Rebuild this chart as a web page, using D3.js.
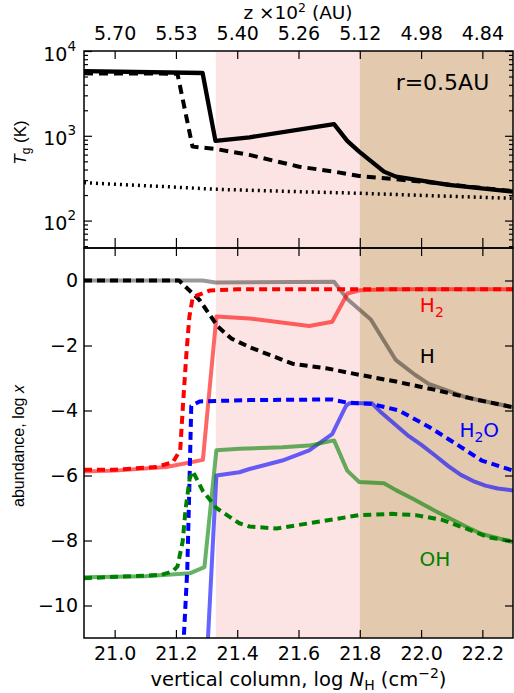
<!DOCTYPE html>
<html>
<head>
<meta charset="utf-8">
<script src="https://cdn.jsdelivr.net/npm/d3@7"></script>
<style>
  html, body { margin: 0; padding: 0; background: #fff; }
  svg { display: block; }
  .tick text { font-family: 'DejaVu Sans', sans-serif; font-size: 19px; fill: #000; }
  .tick line { stroke: #000; stroke-width: 1.2; }
</style>
</head>
<body>
<div id="chart"></div>
<script>
// x ticks: vertical column, log N_H
const colTicks = [21.0, 21.2, 21.4, 21.6, 21.8, 22.0, 22.2];
// matching height labels on the top axis (z x 10^2 AU)
const zLabels = ['5.70', '5.53', '5.40', '5.26', '5.12', '4.98', '4.84'];
const tMajor = [100, 1000, 10000];
const tMinor = [50, 60, 70, 80, 90, 200, 300, 400, 500, 600, 700, 800, 900,
  2000, 3000, 4000, 5000, 6000, 7000, 8000, 9000];
const abTicks = [0, -2, -4, -6, -8, -10];

// shaded layers (log N_H)
const pinkBand = [21.33, 21.8];
const tanBand = [21.8, 22.3];

// gas temperature, K  [log N_H, T]
const tGas = [[20.9, 5800], [21.287, 5500], [21.329, 870], [21.44, 960], [21.716, 1370],
  [21.759, 870], [21.798, 650], [21.879, 378], [21.918, 330], [22.09, 263], [22.3, 219]];
const tGasAlt = [[20.9, 5450], [21.205, 5400], [21.254, 745], [21.329, 700], [21.44, 595],
  [21.602, 432], [21.716, 378], [21.798, 336], [21.918, 307], [22.025, 283], [22.155, 251], [22.3, 223]];
const tDust = [[20.9, 280], [21.0, 268], [21.17, 251], [21.33, 234], [21.602, 219],
  [21.798, 210], [22.025, 197], [22.3, 183]];

// abundances, log x  [log N_H, log x]
const hSolid = [[20.9, 0], [21.287, 0], [21.329, -0.06], [21.716, -0.04], [21.76, -0.58],
  [21.836, -1.2], [21.917, -2.44], [21.98, -2.9], [22.025, -3.18], [22.145, -3.59], [22.3, -3.9]];
const hDash = [[20.9, 0], [21.21, 0], [21.218, -0.07], [21.277, -0.6], [21.337, -1.42],
  [21.38, -1.78], [21.44, -2.05], [21.58, -2.56], [21.69, -2.7], [21.798, -2.9],
  [21.918, -3.11], [22.048, -3.37], [22.178, -3.66], [22.3, -3.9]];
const h2Solid = [[20.9, -5.88], [21.0, -5.85], [21.169, -5.74], [21.288, -5.52], [21.332, -1.11],
  [21.44, -1.17], [21.635, -1.4], [21.71, -1.27], [21.76, -0.4], [21.8, -0.3], [21.9, -0.27], [22.3, -0.27]];
const h2Dash = [[20.9, -5.82], [21.0, -5.82], [21.136, -5.74], [21.19, -5.59], [21.214, -5.22],
  [21.224, -3.68], [21.235, -2.14], [21.244, -1.11], [21.255, -0.51], [21.31, -0.31],
  [21.4, -0.27], [22.3, -0.27]];
const h2oSolid = [[21.303, -11.3], [21.332, -6.0], [21.407, -5.9], [21.44, -5.8], [21.547, -5.54],
  [21.635, -5.23], [21.71, -4.73], [21.755, -3.86], [21.765, -3.78], [21.84, -3.78],
  [21.872, -4.08], [21.96, -4.79], [22.0, -5.05], [22.048, -5.4], [22.09, -5.72],
  [22.13, -5.98], [22.17, -6.17], [22.21, -6.31], [22.25, -6.4], [22.3, -6.46]];
const h2oDash = [[21.224, -11.3], [21.237, -8.9], [21.245, -5.9], [21.25, -3.86], [21.277, -3.72],
  [21.44, -3.68], [21.71, -3.66], [21.755, -3.75], [21.84, -3.8], [21.928, -4.0],
  [22.025, -4.5], [22.113, -5.02], [22.198, -5.54], [22.3, -5.85]];
const ohSolid = [[20.9, -9.13], [21.1, -9.1], [21.245, -9.01], [21.293, -8.82], [21.332, -5.22],
  [21.407, -5.18], [21.547, -5.13], [21.635, -5.08], [21.716, -4.92], [21.759, -5.85],
  [21.798, -6.2], [21.879, -6.24], [21.918, -6.45], [21.97, -6.7], [22.048, -7.1],
  [22.146, -7.57], [22.198, -7.8], [22.3, -8.05]];
const ohDash = [[20.9, -9.16], [21.15, -9.06], [21.19, -8.95], [21.205, -8.8], [21.222, -8.03],
  [21.232, -7.0], [21.245, -6.08], [21.255, -5.87], [21.288, -6.48], [21.332, -7.0],
  [21.407, -7.47], [21.44, -7.57], [21.528, -7.63], [21.635, -7.47], [21.798, -7.22],
  [21.905, -7.18], [21.983, -7.22], [22.067, -7.36], [22.146, -7.63], [22.22, -7.9], [22.3, -8.03]];

const width = 514;
const height = 693;
const left = 84, right = 513;
const topY = 51, midY = 248, botY = 638;

const svg = d3.select('#chart').append('svg')
  .attr('width', width)
  .attr('height', height);

const x = d3.scaleLinear().domain([20.9, 22.3]).range([left, right]);
const yT = d3.scaleLog().domain([47.5, 1e4]).range([midY, topY]);
const yA = d3.scaleLinear().domain([-11, 1]).range([botY, midY]);

// background bands spanning both panels
svg.append('rect')
  .attr('x', x(pinkBand[0])).attr('y', topY)
  .attr('width', x(pinkBand[1]) - x(pinkBand[0])).attr('height', botY - topY)
  .attr('fill', '#fde4e4');
svg.append('rect')
  .attr('x', x(tanBand[0])).attr('y', topY)
  .attr('width', x(tanBand[1]) - x(tanBand[0])).attr('height', botY - topY)
  .attr('fill', '#e3c9ae');

const defs = svg.append('defs');
defs.append('clipPath').attr('id', 'clipT')
  .append('rect').attr('x', left).attr('y', topY).attr('width', right - left).attr('height', midY - topY);
defs.append('clipPath').attr('id', 'clipA')
  .append('rect').attr('x', left).attr('y', midY).attr('width', right - left).attr('height', botY - midY);

/**
 * Draw one series as a path
 */
function drawLine(g, data, yScale, color, opacity, dash, lw) {
  g.append('path')
    .datum(data)
    .attr('fill', 'none')
    .attr('stroke', color)
    .attr('stroke-opacity', opacity)
    .attr('stroke-width', lw)
    .attr('stroke-dasharray', dash)
    .attr('stroke-linejoin', 'round')
    .attr('d', d3.line().x(d => x(d[0])).y(d => yScale(d[1])));
}

// top panel: temperatures
const gT = svg.append('g').attr('clip-path', 'url(#clipT)');
drawLine(gT, tDust, yT, '#000', 1, '2,4', 3.5);
drawLine(gT, tGasAlt, yT, '#000', 1, '9,6', 4);
drawLine(gT, tGas, yT, '#000', 1, null, 4.3);

// bottom panel: abundances
const gA = svg.append('g').attr('clip-path', 'url(#clipA)');
drawLine(gA, hSolid, yA, '#000', 0.4, null, 4);
drawLine(gA, h2Solid, yA, '#ff0000', 0.6, null, 4);
drawLine(gA, h2oSolid, yA, '#0000ff', 0.6, null, 4);
drawLine(gA, ohSolid, yA, '#008000', 0.6, null, 4);
drawLine(gA, hDash, yA, '#000', 1, '8,5', 4);
drawLine(gA, h2Dash, yA, '#ff0000', 1, '8,5', 4);
drawLine(gA, h2oDash, yA, '#0000ff', 1, '8,5', 4);
drawLine(gA, ohDash, yA, '#008000', 1, '8,5', 4);

// axes, ticks pointing inward
function clean(g) { g.select('.domain').remove(); }

svg.append('g').attr('transform', `translate(0,${botY})`)
  .call(d3.axisBottom(x).tickValues(colTicks).tickSizeInner(-8).tickSizeOuter(0)
    .tickPadding(8.5).tickFormat(d3.format('.1f')))
  .call(clean);
svg.append('g').attr('transform', `translate(0,${midY})`)
  .call(d3.axisBottom(x).tickValues(colTicks).tickSize(8).tickFormat(''))
  .call(clean);
svg.append('g').attr('transform', `translate(0,${midY})`)
  .call(d3.axisTop(x).tickValues(colTicks).tickSize(10).tickFormat(''))
  .call(clean);
svg.append('g').attr('transform', `translate(0,${topY})`)
  .call(d3.axisTop(x).tickValues(colTicks).tickSizeInner(-8).tickSizeOuter(0)
    .tickPadding(11).tickFormat((d, i) => zLabels[i]))
  .call(clean);

// temperature axis
svg.append('g').attr('transform', `translate(${left},0)`)
  .call(d3.axisLeft(yT).tickValues(tMajor).tickSizeInner(-8).tickSizeOuter(0).tickPadding(8)
    .tickFormat(d => '10'))
  .call(clean)
  .call(g => g.selectAll('.tick text').attr('dy', '9px')
    .append('tspan').attr('dy', '-10px').style('font-size', '13.5px')
    .text(d => Math.round(Math.log10(d))));
svg.append('g').attr('transform', `translate(${left},0)`)
  .call(d3.axisLeft(yT).tickValues(tMinor).tickSize(-4).tickFormat(''))
  .call(clean);
svg.append('g').attr('transform', `translate(${right},0)`)
  .call(d3.axisRight(yT).tickValues(tMajor).tickSize(-8).tickFormat(''))
  .call(clean);
svg.append('g').attr('transform', `translate(${right},0)`)
  .call(d3.axisRight(yT).tickValues(tMinor).tickSize(-4).tickFormat(''))
  .call(clean);

// abundance axis
svg.append('g').attr('transform', `translate(${left},0)`)
  .call(d3.axisLeft(yA).tickValues(abTicks).tickSizeInner(-8).tickSizeOuter(0).tickPadding(6)
    .tickFormat(d => d < 0 ? '\u2212' + Math.abs(d) : String(d)))
  .call(clean);
svg.append('g').attr('transform', `translate(${right},0)`)
  .call(d3.axisRight(yA).tickValues(abTicks).tickSize(-8).tickFormat(''))
  .call(clean);

// panel frames
[[topY, midY], [midY, botY]].forEach(([a, b]) => {
  svg.append('rect')
    .attr('x', left).attr('y', a)
    .attr('width', right - left).attr('height', b - a)
    .attr('fill', 'none').attr('stroke', '#000').attr('stroke-width', 1.5);
});

// axis titles
const bottomTitle = svg.append('text')
  .attr('x', (left + right) / 2).attr('y', 686)
  .attr('text-anchor', 'middle')
  .style('font-family', "'DejaVu Sans', sans-serif").style('font-size', '19.5px');
bottomTitle.append('tspan').text('vertical column, log ');
bottomTitle.append('tspan').style('font-style', 'italic').text('N');
bottomTitle.append('tspan').attr('dy', 4).style('font-size', '14px').text('H');
bottomTitle.append('tspan').attr('dy', -4).text(' (cm');
bottomTitle.append('tspan').attr('dy', -8).style('font-size', '14px').text('\u22122');
bottomTitle.append('tspan').attr('dy', 8).text(')');

const topTitle = svg.append('text')
  .attr('x', 298).attr('y', 19)
  .attr('text-anchor', 'middle')
  .style('font-family', "'DejaVu Sans', sans-serif").style('font-size', '18.5px');
topTitle.append('tspan').text('z \u00d710');
topTitle.append('tspan').attr('dy', -7).style('font-size', '12.5px').text('2');
topTitle.append('tspan').attr('dy', 7).text(' (AU)');

const tLabel = svg.append('text')
  .attr('transform', `translate(26,${(topY + midY) / 2 - 7}) rotate(-90)`)
  .attr('text-anchor', 'middle')
  .style('font-family', "'Liberation Sans', Arial, sans-serif").style('font-size', '17px');
tLabel.append('tspan').style('font-style', 'italic').text('T');
tLabel.append('tspan').attr('dy', 4).style('font-size', '12px').text('g');
tLabel.append('tspan').attr('dy', -4).text(' (K)');

const aLabel = svg.append('text')
  .attr('transform', `translate(24,${(midY + botY) / 2 + 3}) rotate(-90)`)
  .attr('text-anchor', 'middle')
  .style('font-family', "'Liberation Sans', Arial, sans-serif").style('font-size', '16px');
aLabel.append('tspan').text('abundance, log ');
aLabel.append('tspan').style('font-style', 'italic').text('x');

// in-plot annotations
const note = (txt, px, py, color, size) => svg.append('text')
  .attr('x', px).attr('y', py).attr('fill', color)
  .style('font-family', "'DejaVu Sans', sans-serif").style('font-size', size + 'px')
  .text(txt);

note('r=0.5AU', x(21.917), yT(3470), '#000', 22);

const h2Lab = note('H', x(21.996), yA(-0.96), '#ff0000', 20);
h2Lab.append('tspan').attr('dy', 5).style('font-size', '14px').text('2');

note('H', x(21.996), yA(-2.55), '#000', 20);

const h2oLab = note('H', x(22.125), yA(-4.82), '#0000ff', 20);
h2oLab.append('tspan').attr('dy', 5).style('font-size', '14px').text('2');
h2oLab.append('tspan').attr('dy', -5).text('O');

note('OH', x(21.995), yA(-8.78), '#008000', 20);
</script>
</body>
</html>
